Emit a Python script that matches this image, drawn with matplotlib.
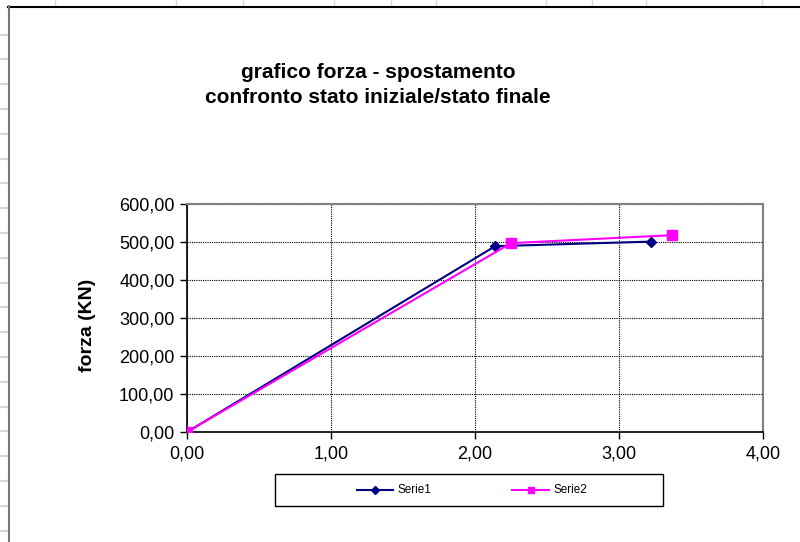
import matplotlib
matplotlib.use("Agg")
import matplotlib.pyplot as plt
from matplotlib.lines import Line2D
from matplotlib.patches import Rectangle
from matplotlib.ticker import FuncFormatter, MultipleLocator

plt.rcParams['font.family'] = ['Liberation Sans', 'DejaVu Sans']

# data
serie1_x = [0.0, 2.14, 3.22]
serie1_y = [0.0, 489.0, 501.0]
serie2_x = [0.0, 2.25, 3.37]
serie2_y = [0.0, 497.0, 518.0]
labels = ["Serie1", "Serie2"]
title = "grafico forza - spostamento\nconfronto stato iniziale/stato finale"
ylabel = "forza (KN)"

W, H = 800, 542
fig = plt.figure(figsize=(W / 100, H / 100), dpi=100)
fig.patch.set_facecolor('white')

def fx(px):
    return px / W

def fy(py):
    return 1 - py / H

# spreadsheet background cues
for px in [55, 176, 243, 334, 391, 436, 546, 592, 646, 762]:
    fig.add_artist(Line2D([fx(px), fx(px)], [fy(0), fy(6)], color='#d8d8d8', lw=1))
py = 34.6
while py < H:
    fig.add_artist(Line2D([fx(0), fx(8)], [fy(py), fy(py)], color='#d8d8d8', lw=1.5))
    py += 24.8
# chart frame
fig.add_artist(Line2D([fx(8), fx(800)], [fy(6.5), fy(6.5)], color='black', lw=1.5))
fig.add_artist(Line2D([fx(8.5), fx(8.5)], [fy(6), fy(542)], color='#777777', lw=1.5))

ax = fig.add_axes([187 / W, (H - 432) / H, 576 / W, 228 / H])
ax.set_facecolor('white')
ax.plot(serie1_x, serie1_y, color='#000080', lw=1.5, marker='D', ms=5.5,
        label=labels[0], zorder=3)
ax.plot(serie2_x, serie2_y, color='#ff00ff', lw=1.5, marker='s', ms=6.5,
        label=labels[1], zorder=4)

ax.set_xlim(0, 4)
ax.set_ylim(0, 600)
ax.xaxis.set_major_locator(MultipleLocator(1))
ax.yaxis.set_major_locator(MultipleLocator(100))
fmt = FuncFormatter(lambda v, p: f"{v:.2f}".replace('.', ','))
ax.xaxis.set_major_formatter(fmt)
ax.yaxis.set_major_formatter(fmt)
ax.grid(True, color='black', linestyle=(0, (1, 1)), lw=0.8)
ax.set_axisbelow(True)
for s in ['top', 'right']:
    ax.spines[s].set_color('#808080')
    ax.spines[s].set_linewidth(1.5)
for s in ['left', 'bottom']:
    ax.spines[s].set_color('black')
    ax.spines[s].set_linewidth(1.2)
ax.tick_params(axis='both', direction='out', length=5, width=1, labelsize=13,
               colors='black')
ax.tick_params(axis='x', pad=5)
ax.tick_params(axis='y', pad=4)
ax.set_ylabel(ylabel, fontsize=14, fontweight='bold')
ax.yaxis.set_label_coords((96 - 187) / 576, (432 - 325) / 228)

fig.text(378 / W, fy(85), title, ha='center', va='center', fontsize=15,
         fontweight='bold', linespacing=1.42)

# legend box
lx0, ly0, lx1, ly1 = 275, 474, 663, 506
fig.add_artist(Rectangle((fx(lx0), fy(ly1)), (lx1 - lx0) / W, (ly1 - ly0) / H,
                         facecolor='white', edgecolor='black', lw=1.0))
ymid = fy(490)
fig.add_artist(Line2D([fx(357), fx(393)], [ymid, ymid], color='#000080', lw=1.5))
fig.add_artist(Line2D([fx(375)], [ymid], color='#000080', marker='D', ms=4, lw=0))
fig.add_artist(Line2D([fx(512), fx(549)], [ymid, ymid], color='#ff00ff', lw=1.5))
fig.add_artist(Line2D([fx(531)], [ymid], color='#ff00ff', marker='s', ms=5, lw=0))
fig.text(fx(397), ymid, labels[0], ha='left', va='center', fontsize=8.5)
fig.text(fx(553), ymid, labels[1], ha='left', va='center', fontsize=8.5)

fig.savefig('out.png', dpi=100, facecolor='white')
